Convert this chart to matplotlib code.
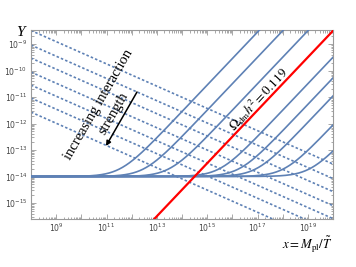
import numpy as np
import matplotlib
matplotlib.use("Agg")
import matplotlib.pyplot as plt
from matplotlib.ticker import LogLocator, FixedLocator, NullFormatter

# ---- data ----
x_log_min, x_log_max = 8.0, 20.0
y_log_min, y_log_max = -15.585, -8.49
plateau_Y = 1e-14
# log10 x where the late-time linear growth (Y ∝ x) reaches the plateau value
solid_knees = [11.55, 12.5, 13.5, 15.5, 16.28, 16.96, 18.06, 19.09]
relic_knee = 14.5                      # red line, Omega_dm h^2 = 0.119
# dashed lines: log10 Y at x = 1e8 and common log-slope
dashed_start = [-8.49, -9.04, -9.53, -10.06, -10.55, -11.04, -11.57]
dashed_slope = -0.42
x_major_labels = [9, 11, 13, 15, 17, 19]

blue = "#5E81B5"
grey = "#9a9a9a"

plt.rcParams["mathtext.fontset"] = "dejavusans"
fig = plt.figure(figsize=(3.56, 2.67), dpi=100)
ax = fig.add_axes([31/356, 1-218.5/267, (333-31)/356, (218.5-30.5)/267])

x = np.logspace(x_log_min, x_log_max, 800)
lx = np.log10(x)

for d0 in dashed_start:
    ax.plot(x, 10**(d0 + dashed_slope*(lx - x_log_min)), color=blue, lw=1.2,
            ls=(0, (1.5, 1.3)), zorder=2)

for k in solid_knees:
    ax.plot(x, plateau_Y*(1 + x/10**k), color=blue, lw=1.2, zorder=3)

ax.plot(x, plateau_Y*x/10**relic_knee, color="#ff0000", lw=1.6, zorder=4)

ax.set_xscale("log")
ax.set_yscale("log")
ax.set_xlim(10**x_log_min, 10**x_log_max)
ax.set_ylim(10**y_log_min, 10**y_log_max)

ax.xaxis.set_major_locator(FixedLocator([10.0**e for e in range(8, 21)]))
ax.xaxis.set_minor_locator(LogLocator(base=10, subs=np.arange(2, 10), numticks=100))
ax.set_xticklabels([r"$10^{%d}$" % e if e in x_major_labels else "" for e in range(8, 21)])
ax.xaxis.set_minor_formatter(NullFormatter())
ax.yaxis.set_major_locator(FixedLocator([10.0**e for e in range(-15, -8)]))
ax.yaxis.set_minor_locator(LogLocator(base=10, subs=np.arange(2, 10), numticks=100))
ax.set_yticklabels([r"$10^{%d}$" % e for e in range(-15, -8)])
ax.yaxis.set_minor_formatter(NullFormatter())

ax.tick_params(which="both", direction="in", top=True, right=True, color=grey,
               labelsize=5.6, labelcolor="#444444", width=0.6)
ax.tick_params(which="major", length=3.5, pad=2.5)
ax.tick_params(axis="x", which="major", pad=2)
ax.tick_params(which="minor", length=1.8)
for s in ax.spines.values():
    s.set_color(grey)
    s.set_linewidth(0.8)

fig.text(20/356, 1-32/267, "Y", family="Liberation Serif", style="italic",
         fontsize=11, ha="center", va="center")
fig.text(333/356, 1-245/267, r"$x = M_{\rm pl}/\tilde{T}$", fontsize=9.3,
         ha="right", va="center", math_fontfamily="stix")

fig.text(99/356, 1-105/267, "increasing interaction", family="Liberation Serif",
         fontsize=10.5, rotation=60, ha="center", va="center", rotation_mode="anchor")
fig.text(113.5/356, 1-114/267, "strength", family="Liberation Serif",
         fontsize=10.5, rotation=60, ha="center", va="center", rotation_mode="anchor")
fig.text(258/356, 1-99/267, r"$\Omega_{\rm dm}h^2 = 0.119$", fontsize=9.5,
         rotation=47, ha="center", va="center", rotation_mode="anchor",
         math_fontfamily="stix")

ax.annotate("", xy=(106/356, 1-146/267), xytext=(137/356, 1-92/267),
            xycoords="figure fraction", textcoords="figure fraction",
            arrowprops=dict(arrowstyle="-|>", color="black", lw=1.1,
                            mutation_scale=7, shrinkA=0, shrinkB=0))

fig.savefig("out.png", dpi=100)
